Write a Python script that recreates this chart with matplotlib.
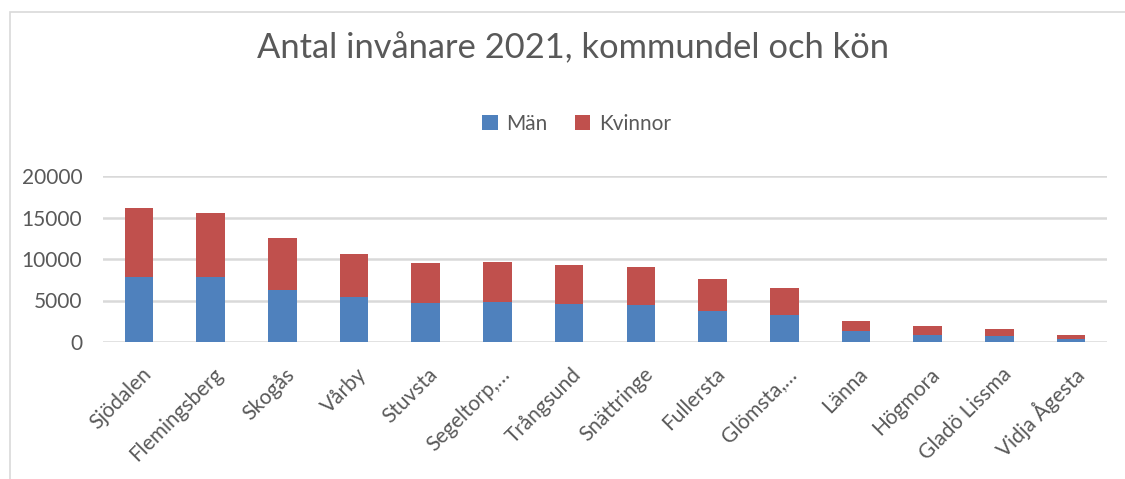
import numpy as np
from matplotlib import pyplot as plt
from matplotlib.patches import Rectangle
from matplotlib.transforms import ScaledTranslation

plt.rcParams['font.family'] = ['Lato', 'DejaVu Sans']

omraden = ['Sjödalen', 'Flemingsberg', 'Skogås', 'Vårby', 'Stuvsta', 'Segeltorp,…',
           'Trångsund', 'Snättringe', 'Fullersta', 'Glömsta,…', 'Länna', 'Högmora',
           'Gladö Lissma', 'Vidja Ågesta']
man = [7830, 7830, 6300, 5420, 4700, 4860, 4620, 4460, 3730, 3250, 1330, 840, 760, 360]
kvinnor = [8320, 7710, 6230, 5180, 4820, 4780, 4660, 4580, 3860, 3250, 1200, 1090, 810, 480]

blue = '#4F81BD'
red = '#C0504D'
grey = '#595959'

fig = plt.figure(figsize=(11.25, 4.79), dpi=100)
# chart frame
fig.patches.append(Rectangle((10/1125, -0.1), 1.2, 1 - 12/479 + 0.1, transform=fig.transFigure,
                             fill=False, edgecolor='#d9d9d9', linewidth=1.2))

ax = fig.add_axes([103/1125, 1 - 342/479, (1107 - 103)/1125, (342 - 176)/479])
x = np.arange(len(omraden))
ax.bar(x, man, width=0.4, color=blue, label='Män', zorder=3)
ax.bar(x, kvinnor, width=0.4, bottom=man, color=red, label='Kvinnor', zorder=3)

ax.set_xlim(-0.5, len(omraden) - 0.5)
ax.set_ylim(0, 20000)
ax.set_yticks([0, 5000, 10000, 15000, 20000])
ax.yaxis.grid(True, color='#d9d9d9', linewidth=1.8, zorder=0)
ax.set_axisbelow(True)
for s in ax.spines.values():
    s.set_visible(False)
ax.tick_params(axis='both', length=0, labelsize=15, colors=grey)
ax.tick_params(axis='y', pad=15)
ax.set_xticks(x)
ax.set_xticklabels(omraden, rotation=45, ha='right', va='center', rotation_mode='anchor')
ax.tick_params(axis='x', pad=21)
shift = ScaledTranslation(9/100, 0, fig.dpi_scale_trans)
for lab in ax.get_xticklabels():
    lab.set_transform(lab.get_transform() + shift)

fig.text(0.509, 1 - 48/479, 'Antal invånare 2021, kommundel och kön', ha='center', va='center',
         fontsize=24.8, color=grey)
fig.legend(loc='center', bbox_to_anchor=(0.5125, 1 - 124/479), ncol=2, frameon=False,
           fontsize=15, handlelength=0.75, handleheight=0.75, handletextpad=0.4,
           columnspacing=1.3, labelcolor=grey)

fig.savefig('out.png', dpi=100)
